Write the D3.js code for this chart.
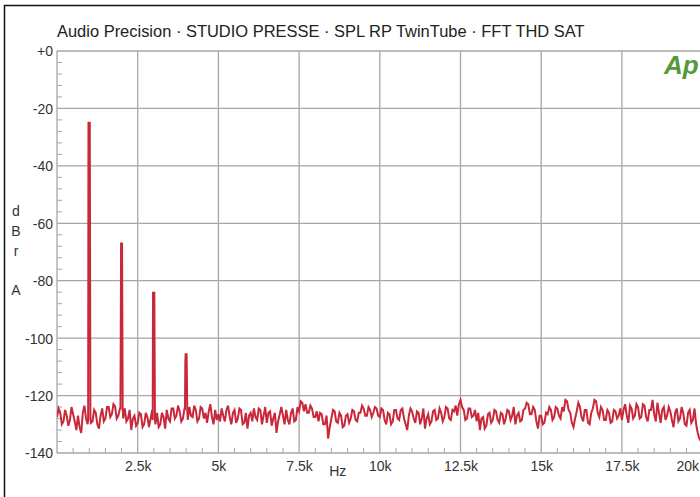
<!DOCTYPE html>
<html><head><meta charset="utf-8">
<script src="https://cdn.jsdelivr.net/npm/d3@7"></script>
<style>
html,body{margin:0;padding:0;background:#fff;}
svg{display:block;}
text{font-family:"Liberation Sans",Arial,sans-serif;}
</style></head>
<body>
<script>
// ---- data ----
const titleText = "Audio Precision · STUDIO PRESSE · SPL RP TwinTube · FFT THD SAT";
const yTickValues = [0, -20, -40, -60, -80, -100, -120, -140];
const yTickLabels = ["+0", "-20", "-40", "-60", "-80", "-100", "-120", "-140"];
const xTickValues = [2500, 5000, 7500, 10000, 12500, 15000, 17500, 20000];
const xTickLabels = ["2.5k", "5k", "7.5k", "10k", "12.5k", "15k", "17.5k", "20k"];
const yLabelLetters = ["d", "B", "r", "", "A"];
const xLabel = "Hz";

// harmonics (Hz, dB)
const harmonicHz = [1000, 2000, 3000, 4000];
const harmonicDb = [-25, -67, -84.2, -105.6];
const shoulderDb = [-25, -100.3, -84.2, -108.7];
const harmonicBaseDb = [-128, -124.5, -128.5, -125];

// noise floor, 50 Hz steps from 0 Hz
const noiseStepHz = 50;
const noiseDb = [
 -127.5,-124.5,-126,-130,-129,-125,-127,-130.5,-128.5,-124,-126.5,-129,-132,-127,-131,-133,-126,-123.5,-128,-130,
 -127,-129.5,-129,-125,-126,-130,-131.5,-127,-124.5,-129,-128,-124,-124,-127.5,-126.5,-123,-123.8,-128,-127,-124.5,
 -126,-128,-124.5,-129,-128,-125,-132,-128,-127,-130.5,-129.5,-126,-126.5,-131,-130,-126,-127.5,-131,-128,-125,
 -128,-130,-126,-131,-130,-126,-127.5,-131.5,-125,-128,-129,-124.5,-124.5,-128,-127,-123.5,-125.5,-129,-128,-124.5,
 -126,-128.5,-124,-127,-127.5,-123.5,-125,-129,-128,-124,-124.5,-128,-126,-129.5,-125.5,-123,-127.5,-130,-125,-128.5,
 -126.5,-129,-124.5,-127,-129,-125,-123.5,-127.5,-130,-126,-125,-129.5,-128,-124.5,-125,-130,-129.5,-126,-131.5,-127,
 -126,-129,-124.5,-127.5,-128.5,-124.5,-125,-130,-127,-124,-129.5,-126,-125.5,-130.5,-128,-126,-133,-129,-126.5,-124,
 -127,-130,-125,-128.5,-130,-126,-124.5,-129,-128.5,-124,-125.5,-122,-122.5,-125.5,-123,-126,-126,-123.5,-124.5,-127.5,
 -127.5,-125.5,-129,-126,-126.5,-130,-130,-127,-135,-131,-128,-125,-125.5,-129,-129.5,-126,-127,-131,-130.5,-127,
 -126.5,-129.5,-128,-125,-125.5,-128.5,-129,-126,-126,-123.5,-124.5,-127,-127,-124,-125,-127.5,-126,-124,-124.5,-127,
 -127.5,-124.5,-125,-128.5,-130,-126,-126.5,-130,-129,-125,-125,-128,-128.5,-125,-124.5,-128,-130,-132,-127,-124.5,
 -125.5,-128,-129.5,-125.5,-126,-130,-128,-124.5,-131.5,-128,-126.5,-130,-129,-125.5,-125,-128.5,-128,-124.5,-126,-129,
 -127.5,-124,-124.5,-128,-128.5,-125,-125.5,-123.5,-127,-123,-121.5,-124,-125,-128.5,-128,-124.5,-124.5,-127.5,-127,-125,
 -129,-126,-132,-128,-127.5,-131.5,-130.5,-126.5,-126,-129.5,-128.5,-125,-125.5,-128.5,-129.5,-126,-126.5,-130,-128,-125,
 -125.5,-128.5,-127,-124,-130,-127,-126,-129,-128.5,-125,-124.5,-122.5,-123,-126.5,-126.5,-124,-125,-129,-131.5,-127,
 -127,-130,-129.5,-126,-126.5,-124,-125,-128.5,-127.5,-124,-124.5,-127,-128,-124,-125.5,-121.5,-122,-125,-126,-129.5,
 -131,-128,-125.5,-122.5,-124,-127.5,-129,-125,-125,-129.5,-130,-126,-124.5,-121.5,-122,-126,-127.5,-124,-125,-128.5,
 -128.5,-125,-126,-129.5,-129,-125,-125.5,-128,-127,-124.5,-128.5,-125,-123,-127,-129.5,-123.5,-124.5,-128,-127,-123,
 -124,-128,-127.5,-123,-123.5,-127.5,-129,-125,-125,-121.5,-126.5,-129,-122.5,-126,-129.5,-125,-124,-128.5,-127,-124,
 -125.5,-128.5,-131,-126,-124.5,-129,-128,-124,-126,-130,-130.5,-126,-125,-129.5,-128.5,-124.5,-130,-133,-135,-136,
 -134,-131,-128,-127,-126,-128
];

// ---- build series ----
const series = [];
noiseDb.forEach((v, i) => {
  const f = i * noiseStepHz;
  if (harmonicHz.some(h => Math.abs(f - h) < 45)) return;
  series.push([f, v]);
});
harmonicHz.forEach((h, k) => {
  series.push([h - 35, harmonicBaseDb[k]]);
  series.push([h - 25, shoulderDb[k]]);
  series.push([h - 15, harmonicDb[k]]);
  series.push([h + 15, harmonicDb[k]]);
  series.push([h + 35, harmonicBaseDb[k]]);
});
series.sort((a, b) => a[0] - b[0]);

// ---- drawing ----
const W = 700, H = 497;
const svg = d3.select("body").append("svg").attr("width", W).attr("height", H);
svg.append("rect").attr("width", W).attr("height", H).attr("fill", "#fff");

const x = d3.scaleLinear().domain([0, 20000]).range([57, 702.6]);
const y = d3.scaleLinear().domain([0, -140]).range([51, 453]);

// outer frame
svg.append("path").attr("d", `M4.5,${H} L4.5,5.5 L${W},5.5`)
  .attr("fill", "none").attr("stroke", "#111").attr("stroke-width", 1.5);

// title
const title = svg.append("text").attr("x", 57).attr("y", 37)
  .attr("font-size", 15).attr("fill", "#222").text(titleText);
const tl = title.node().getComputedTextLength();
title.attr("font-size", 15 * 528 / tl);

const gridColor = "#a6a6a6";
// horizontal grid
svg.append("g").selectAll("line").data(yTickValues).join("line")
  .attr("x1", x(0)).attr("x2", x(20000) + 5)
  .attr("y1", d => y(d)).attr("y2", d => y(d))
  .attr("stroke", gridColor).attr("stroke-width", 1.3);
// vertical grid
svg.append("g").selectAll("line").data([0].concat(xTickValues)).join("line")
  .attr("x1", d => x(d)).attr("x2", d => x(d))
  .attr("y1", y(0)).attr("y2", y(-140))
  .attr("stroke", gridColor).attr("stroke-width", 1.3);

// minor ticks
const yMinor = d3.range(0, -141, -4).filter(v => v % 20 !== 0);
svg.append("g").selectAll("line").data(yMinor).join("line")
  .attr("x1", x(0)).attr("x2", x(0) + 5)
  .attr("y1", d => y(d)).attr("y2", d => y(d))
  .attr("stroke", gridColor).attr("stroke-width", 1);
const xMinor = d3.range(500, 20001, 500).filter(v => v % 2500 !== 0);
svg.append("g").selectAll("line").data(xMinor).join("line")
  .attr("x1", d => x(d)).attr("x2", d => x(d))
  .attr("y1", y(-140)).attr("y2", y(-140) - 5)
  .attr("stroke", gridColor).attr("stroke-width", 1);

// y axis labels via d3 axis
const yAxis = d3.axisLeft(y).tickValues(yTickValues)
  .tickFormat((d, i) => yTickLabels[i]).tickSize(0).tickPadding(4);
const gy = svg.append("g").attr("transform", `translate(${x(0)},0)`).call(yAxis);
gy.select(".domain").remove();
gy.selectAll("text").attr("font-size", 14).attr("fill", "#333")
  .attr("font-family", "Liberation Sans, Arial, sans-serif").attr("dy", "0.35em");

// x axis labels via d3 axis
const xAxis = d3.axisBottom(x).tickValues(xTickValues)
  .tickFormat((d, i) => xTickLabels[i]).tickSize(0).tickPadding(8);
const gx = svg.append("g").attr("transform", `translate(0,${y(-140)})`).call(xAxis);
gx.select(".domain").remove();
gx.selectAll("text").attr("font-size", 14).attr("fill", "#333")
  .attr("font-family", "Liberation Sans, Arial, sans-serif");
// keep last label inside the picture
gx.selectAll(".tick").each(function () {
  const t = d3.select(this).select("text");
  const bb = t.node().getBBox();
  const tr = d3.select(this).attr("transform");
  const tx = +tr.match(/translate\(([-\d.]+)/)[1];
  if (tx + bb.x + bb.width > W - 1) t.attr("text-anchor", "end").attr("x", W - 1 - tx);
});

// axis titles
svg.append("text").attr("x", x(10000) - 42).attr("y", 476)
  .attr("text-anchor", "middle").attr("font-size", 14).attr("fill", "#333").text(xLabel);
svg.append("g").selectAll("text").data(yLabelLetters).join("text")
  .attr("x", 16).attr("y", (d, i) => 216 + i * 19.8)
  .attr("text-anchor", "middle").attr("font-size", 14).attr("fill", "#333").text(d => d);

// Ap logo
svg.append("text").attr("x", 664).attr("y", 74)
  .attr("font-size", 26).attr("font-weight", "bold").attr("font-style", "italic")
  .attr("fill", "#55993a").text("Ap");

// spectrum
svg.append("clipPath").attr("id", "plotclip").append("rect")
  .attr("x", x(0)).attr("y", y(0)).attr("width", W - x(0)).attr("height", y(-140) - y(0));
const line = d3.line().x(d => x(d[0])).y(d => y(d[1]));
svg.append("path").datum(series).attr("clip-path", "url(#plotclip)")
  .attr("d", line).attr("fill", "none").attr("stroke", "#c8283a")
  .attr("stroke-width", 2).attr("stroke-linejoin", "miter");
</script>
</body></html>
